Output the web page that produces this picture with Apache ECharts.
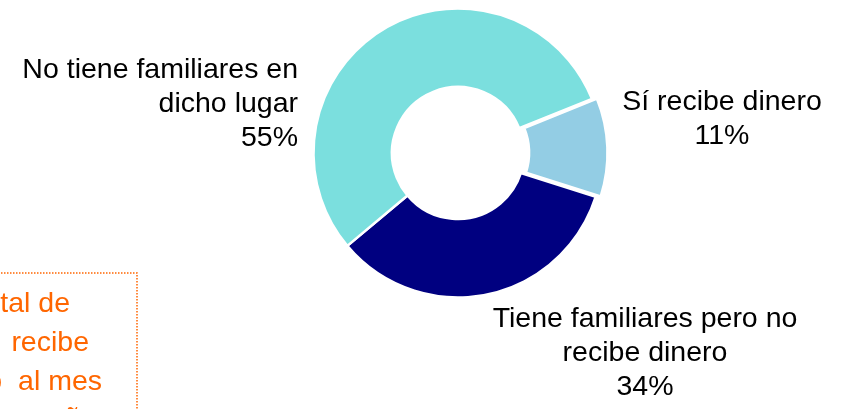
<!DOCTYPE html>
<html><head><meta charset="utf-8">
<script src="https://cdn.jsdelivr.net/npm/echarts@6/dist/echarts.min.js"></script>
<style>html,body{margin:0;padding:0;background:#fff}#c{width:842px;height:409px}</style>
</head><body><div id="c"></div>
<script>
var categories = ['Sí recibe dinero', 'Tiene familiares pero no\nrecibe dinero', 'No tiene familiares en\ndicho lugar'];
var values = [11, 34, 55];
var colors = ['#93CDE4', '#000080', '#7BDFDE'];
var explodedIndex = 0;
var boxLines = ['Total de', 'que  recibe', 'dinero  al mes', 'en un año'];

var FONT = '"Liberation Sans", Arial, sans-serif';
var FS = 28.5;
var labelPos = [
  {x: 722, y: 119, align: 'center'},
  {x: 645, y: 353, align: 'center'},
  {x: 298, y: 104, align: 'right'}
];

var startAngle = 22;
var center = [458, 153];
var radius = [66, 144.5];
var explodeDist = 5;

// bisector angle of the exploded slice
var total = values.reduce(function (a, b) { return a + b; }, 0);
var before = values.slice(0, explodedIndex).reduce(function (a, b) { return a + b; }, 0);
var midDeg = startAngle - (before + values[explodedIndex] / 2) / total * 360;
var midRad = midDeg * Math.PI / 180;
var center2 = [center[0] + explodeDist * Math.cos(midRad), center[1] - explodeDist * Math.sin(midRad)];

var clear = 'rgba(0,0,0,0)';
var dataMain = categories.map(function (n, i) {
  var hide = i === explodedIndex;
  return {name: n, value: values[i],
    itemStyle: {color: hide ? clear : colors[i], borderColor: hide ? clear : '#fff'}};
});
var dataExploded = categories.map(function (n, i) {
  var show = i === explodedIndex;
  return {name: n, value: values[i],
    itemStyle: {color: show ? colors[i] : clear, borderColor: show ? '#fff' : clear}};
});

var boxEnds = [70, 89, 102, 96];
var boxY = [304, 343, 382, 419];
var graphics = [{
  type: 'rect', silent: true,
  shape: {x: -20, y: 273, width: 157, height: 200},
  style: {fill: 'none', stroke: '#FF6600', lineWidth: 1.5, lineDash: [1.5, 1.5]}
}];
boxLines.forEach(function (t, i) {
  graphics.push({
    type: 'text', silent: true, x: boxEnds[i], y: boxY[i],
    style: {text: t, fill: '#FF6600', font: FS + 'px ' + FONT, align: 'right', verticalAlign: 'middle'}
  });
});

var chart = echarts.init(document.getElementById('c'), null, {renderer: 'canvas'});
chart.setOption({
  animation: false,
  graphic: graphics,
  series: [{
    type: 'pie',
    center: center,
    radius: radius,
    startAngle: startAngle,
    clockwise: true,
    silent: true,
    avoidLabelOverlap: false,
    itemStyle: {borderWidth: 2.5},
    label: {
      show: true,
      position: 'outside',
      formatter: '{b}\n{d}%',
      fontFamily: FONT,
      fontSize: FS,
      lineHeight: 34,
      color: '#000'
    },
    labelLine: {show: false},
    labelLayout: function (p) {
      var lp = labelPos[p.dataIndex];
      return {x: lp.x, y: lp.y, align: lp.align, verticalAlign: 'middle'};
    },
    data: dataMain
  }, {
    type: 'pie',
    center: center2,
    radius: radius,
    startAngle: startAngle,
    clockwise: true,
    silent: true,
    itemStyle: {borderWidth: 2.5},
    label: {show: false},
    labelLine: {show: false},
    data: dataExploded
  }]
});
</script></body></html>
